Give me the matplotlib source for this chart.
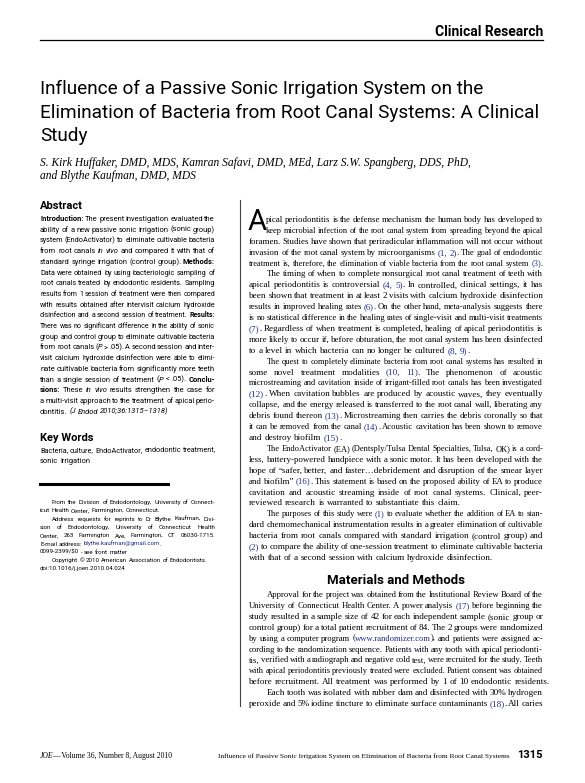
import re
import matplotlib
matplotlib.use('Agg')
import matplotlib.pyplot as plt

W, H = 585, 783
BLUE = '#1f2a8a'
SANS = ['Roboto', 'DejaVu Sans']
SERIF = ['Liberation Serif', 'DejaVu Serif']

title_lines = ['Influence of a Passive Sonic Irrigation System on the',
               'Elimination of Bacteria from Root Canal Systems: A Clinical',
               'Study']
author_lines = ['S. Kirk Huffaker, DMD, MDS, Kamran Safavi, DMD, MEd, Larz S.W. Spangberg, DDS, PhD,',
                'and Blythe Kaufman, DMD, MDS']

# (text, indent, justify)
abstract = [
    ('**Introduction:** The present investigation evaluated the', 0, 1),
    ('ability of a new passive sonic irrigation (sonic group)', 0, 1),
    ('system (EndoActivator) to eliminate cultivable bacteria', 0, 1),
    ('from root canals __in vivo__ and compared it with that of', 0, 1),
    ('standard syringe irrigation (control group). **Methods:**', 0, 1),
    ('Data were obtained by using bacteriologic sampling of', 0, 1),
    ('root canals treated by endodontic residents. Sampling', 0, 1),
    ('results from 1 session of treatment were then compared', 0, 1),
    ('with results obtained after intervisit calcium hydroxide', 0, 1),
    ('disinfection and a second session of treatment. **Results:**', 0, 1),
    ('There was no significant difference in the ability of sonic', 0, 1),
    ('group and control group to eliminate cultivable bacteria', 0, 1),
    ('from root canals (__P__ > .05). A second session and inter-', 0, 1),
    ('visit calcium hydroxide disinfection were able to elimi-', 0, 1),
    ('nate cultivable bacteria from significantly more teeth', 0, 1),
    ('than a single session of treatment (__P__ < .05). **Conclu-**', 0, 1),
    ('**sions:** These __in vivo__ results strengthen the case for', 0, 1),
    ('a multi-visit approach to the treatment of apical perio-', 0, 1),
    ('dontitis. __(J Endod 2010;36:1315–1318)__', 0, 0),
]
keywords = [('Bacteria, culture, EndoActivator, endodontic treatment,', 0, 0),
            ('sonic irrigation', 0, 0)]
footnotes = [
    ('From the Division of Endodontology, University of Connect-', 12, 1),
    ('icut Health Center, Farmington, Connecticut.', 0, 0),
    ('Address requests for reprints to Dr Blythe Kaufman, Divi-', 12, 1),
    ('sion of Endodontology, University of Connecticut Health', 0, 1),
    ('Center, 263 Farmington Ave, Farmington, CT 06030-1715.', 0, 1),
    ('E-mail address: [[blythe.kaufman@gmail.com]].', 0, 0),
    ('0099-2399/$0 - see front matter', 0, 0),
    ('Copyright © 2010 American Association of Endodontists.', 12, 0),
    ('doi:10.1016/j.joen.2010.04.024', 0, 0),
]
intro = [
    ('pical periodontitis is the defense mechanism the human body has developed to', 17, 1),
    ('keep microbial infection of the root canal system from spreading beyond the apical', 17, 1),
    ('foramen. Studies have shown that periradicular inflammation will not occur without', 0, 1),
    ('invasion of the root canal system by microorganisms [[(1, 2)]]. The goal of endodontic', 0, 1),
    ('treatment is, therefore, the elimination of viable bacteria from the root canal system [[(3)]].', 0, 1),
    ('The timing of when to complete nonsurgical root canal treatment of teeth with', 18, 1),
    ('apical periodontitis is controversial [[(4, 5)]]. In controlled, clinical settings, it has', 0, 1),
    ('been shown that treatment in at least 2 visits with calcium hydroxide disinfection', 0, 1),
    ('results in improved healing rates [[(6)]]. On the other hand, meta-analysis suggests there', 0, 1),
    ('is no statistical difference in the healing rates of single-visit and multi-visit treatments', 0, 1),
    ('[[(7)]]. Regardless of when treatment is completed, healing of apical periodontitis is', 0, 1),
    ('more likely to occur if, before obturation, the root canal system has been disinfected', 0, 1),
    ('to a level in which bacteria can no longer be cultured [[(8, 9)]].', 0, 0),
    ('The quest to completely eliminate bacteria from root canal systems has resulted in', 18, 1),
    ('some novel treatment modalities [[(10, 11)]]. The phenomenon of acoustic', 0, 1),
    ('microstreaming and cavitation inside of irrigant-filled root canals has been investigated', 0, 1),
    ('[[(12)]]. When cavitation bubbles are produced by acoustic waves, they eventually', 0, 1),
    ('collapse, and the energy released is transferred to the root canal wall, liberating any', 0, 1),
    ('debris found thereon [[(13)]]. Microstreaming then carries the debris coronally so that', 0, 1),
    ('it can be removed from the canal [[(14)]]. Acoustic cavitation has been shown to remove', 0, 1),
    ('and destroy biofilm [[(15)]].', 0, 0),
    ('The EndoActivator (EA) (Dentsply/Tulsa Dental Specialties, Tulsa, OK) is a cord-', 18, 1),
    ('less, battery-powered handpiece with a sonic motor. It has been developed with the', 0, 1),
    ('hope of “safer, better, and faster…debridement and disruption of the smear layer', 0, 1),
    ('and biofilm” [[(16)]]. This statement is based on the proposed ability of EA to produce', 0, 1),
    ('cavitation and acoustic streaming inside of root canal systems. Clinical, peer-', 0, 1),
    ('reviewed research is warranted to substantiate this claim.', 0, 0),
    ('The purposes of this study were [[(1)]] to evaluate whether the addition of EA to stan-', 18, 1),
    ('dard chemomechanical instrumentation results in a greater elimination of cultivable', 0, 1),
    ('bacteria from root canals compared with standard irrigation (control group) and', 0, 1),
    ('[[(2)]] to compare the ability of one-session treatment to eliminate cultivable bacteria', 0, 1),
    ('with that of a second session with calcium hydroxide disinfection.', 0, 0),
]
methods = [
    ('Approval for the project was obtained from the Institutional Review Board of the', 18, 1),
    ('University of Connecticut Health Center. A power analysis [[(17)]] before beginning the', 0, 1),
    ('study resulted in a sample size of 42 for each independent sample (sonic group or', 0, 1),
    ('control group) for a total patient recruitment of 84. The 2 groups were randomized', 0, 1),
    ('by using a computer program ([[www.randomizer.com]]), and patients were assigned ac-', 0, 1),
    ('cording to the randomization sequence. Patients with any tooth with apical periodonti-', 0, 1),
    ('tis, verified with a radiograph and negative cold test, were recruited for the study. Teeth', 0, 1),
    ('with apical periodontitis previously treated were excluded. Patient consent was obtained', 0, 1),
    ('before recruitment. All treatment was performed by 1 of 10 endodontic residents.', 0, 0),
    ('Each tooth was isolated with rubber dam and disinfected with 30% hydrogen', 18, 1),
    ('peroxide and 5% iodine tincture to eliminate surface contaminants [[(18)]]. All caries', 0, 1),
]

fig = plt.figure(figsize=(W / 100, H / 100), dpi=100)
fig.patch.set_facecolor('white')
renderer = fig.canvas.get_renderer()


def put(x, y, s, **kw):
    return fig.text(x / W, 1 - y / H, s, va='baseline', parse_math=False, **kw)


def parse_word(word, state):
    segs = []
    for piece in re.split(r'(\*\*|__|\[\[|\]\])', word):
        if piece == '**':
            state['b'] = not state['b']
        elif piece == '__':
            state['i'] = not state['i']
        elif piece == '[[':
            state['c'] = True
        elif piece == ']]':
            state['c'] = False
        elif piece:
            segs.append((piece, dict(state)))
    return segs


def layout_line(line, y, state, family, size):
    words = []
    for w in line.split(' '):
        arts = []
        for txt, st in parse_word(w, state):
            t = put(0, y, txt, size=size, family=family,
                    weight='bold' if st['b'] else 'normal',
                    style='italic' if st['i'] else 'normal',
                    color=BLUE if st['c'] else 'black')
            arts.append((t, t.get_window_extent(renderer).width))
        words.append((arts, sum(e for _, e in arts)))
    return words


def draw_block(lines, x0, x1, y0, dy, family, size):
    probe = put(0, 0, 'a a', size=size, family=family)
    probe2 = put(0, 0, 'aa', size=size, family=family)
    sp = probe.get_window_extent(renderer).width - probe2.get_window_extent(renderer).width
    probe.remove()
    probe2.remove()
    state = {'b': False, 'i': False, 'c': False}
    for k, (line, indent, justify) in enumerate(lines):
        y = y0 + k * dy
        start = x0 + indent
        saved = dict(state)
        s = size
        words = layout_line(line, y, state, family, s)
        # shrink a crowded line so words keep a visible gap
        while True:
            total = sum(w for _, w in words)
            need = total + 0.6 * sp * (len(words) - 1)
            if need <= x1 - start or s < size * 0.8:
                break
            for arts, _ in words:
                for t, _ in arts:
                    t.remove()
            s *= 0.97
            state.clear()
            state.update(saved)
            words = layout_line(line, y, state, family, s)
        gap = sp
        if justify and len(words) > 1:
            gap = (x1 - start - total) / (len(words) - 1)
        x = start
        for arts, wid in words:
            for t, ew in arts:
                t.set_position((x / W, 1 - y / H))
                x += ew
            x += gap


# header
put(543, 36, 'Clinical Research', size=10, family=SANS, weight='bold', ha='right')
fig.add_artist(plt.Line2D([40 / W, 543 / W], [1 - 40 / H] * 2, color='black', lw=0.9))

for k, s in enumerate(title_lines):
    put(40, 94 + k * 23.5, s, size=13.7, family=SANS)
for k, s in enumerate(author_lines):
    put(40, 166 + k * 13, s, size=8.3, family=SERIF, style='italic')

# left column
put(40, 209, 'Abstract', size=8, family=SANS, weight='bold')
draw_block(abstract, 40, 215, 221, 10.7, SANS, 5.4)
put(40, 441, 'Key Words', size=8, family=SANS, weight='bold')
draw_block(keywords, 40, 215, 452, 10.7, SANS, 5.4)
fig.add_artist(plt.Line2D([40 / W, 168 / W], [1 - 484 / H] * 2, color='black', lw=2.2))
draw_block(footnotes, 40, 215, 504, 8.3, SANS, 4.4)

# vertical rule
fig.add_artist(plt.Line2D([240 / W] * 2, [1 - 200 / H, 1 - 706 / H], color='#444444', lw=0.8))

# right column
put(248, 230, 'A', size=21, family=SANS)
draw_block(intro, 249, 543, 222, 10.9, SERIF, 6.6)
put(396, 584, 'Materials and Methods', size=9.5, family=SANS, weight='bold', ha='center')
draw_block(methods, 249, 543, 597, 10.9, SERIF, 6.6)

# footer
put(40, 758, 'JOE', size=5.5, family=SERIF, style='italic')
put(52, 758, '— Volume 36, Number 8, August 2010', size=5.5, family=SERIF)
put(510, 758, 'Influence of Passive Sonic Irrigation System on Elimination of Bacteria from Root Canal Systems',
    size=5.3, family=SERIF, ha='right')
put(543, 758, '1315', size=8, family=SANS, weight='bold', ha='right')

fig.savefig('out.png', dpi=100, facecolor='white')
